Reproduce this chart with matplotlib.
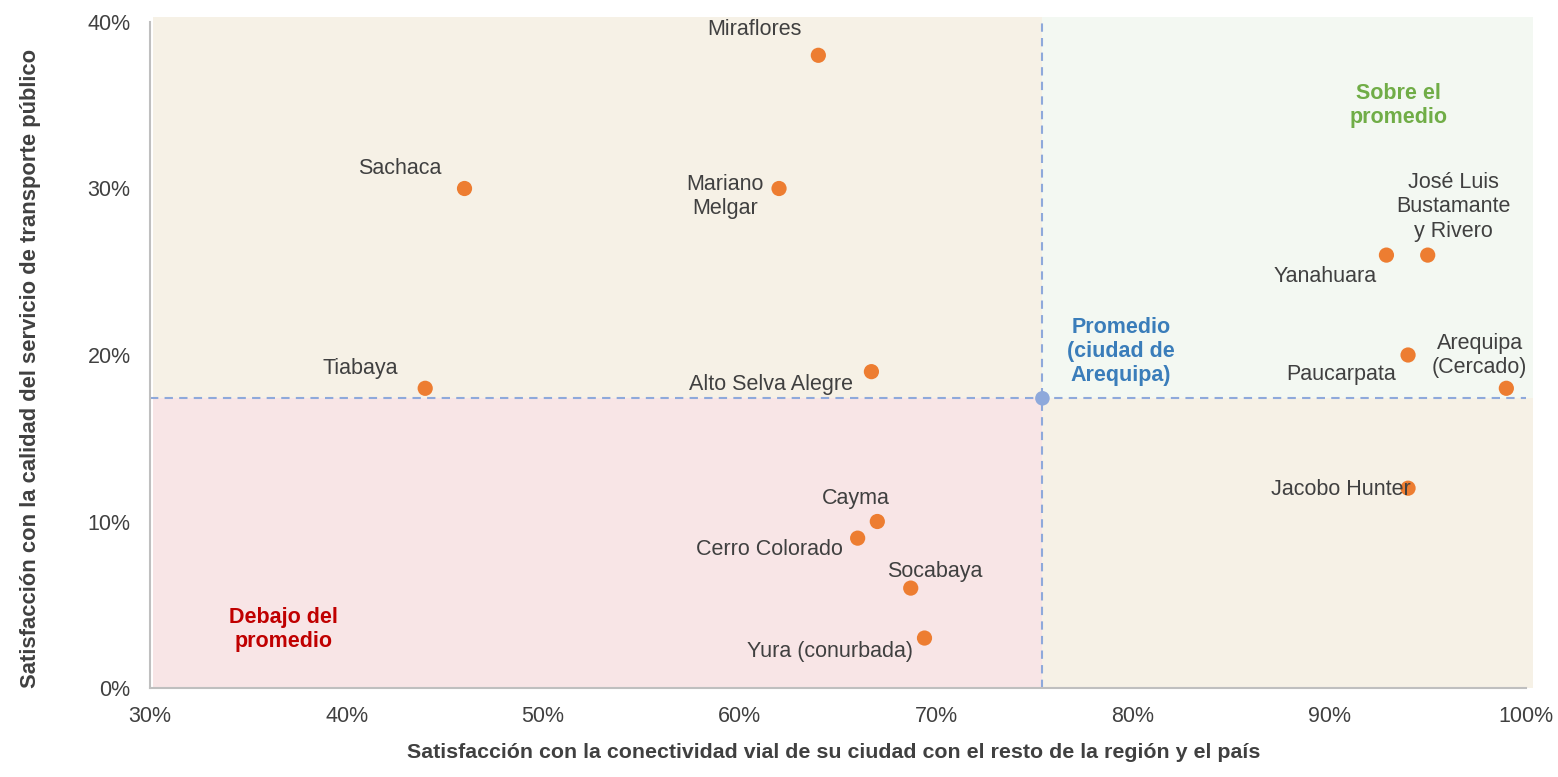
import matplotlib
matplotlib.use("Agg")
import matplotlib.pyplot as plt
from matplotlib.patches import Rectangle

plt.rcParams['font.family'] = ['Liberation Sans', 'DejaVu Sans']

districts = ["Miraflores", "Sachaca", "Mariano\nMelgar", "Tiabaya", "Alto Selva Alegre",
             "Cayma", "Cerro Colorado", "Socabaya", "Yura (conurbada)", "Yanahuara",
             "José Luis\nBustamante\ny Rivero", "Paucarpata", "Arequipa\n(Cercado)", "Jacobo Hunter"]
x_vals = [64.0, 46.0, 62.0, 44.0, 66.7, 67.0, 66.0, 68.7, 69.4, 92.9, 95.0, 94.0, 99.0, 94.0]
y_vals = [38.0, 30.0, 30.0, 18.0, 19.0, 10.0, 9.0, 6.0, 3.0, 26.0, 26.0, 20.0, 18.0, 12.0]
label_x = [60.77, 42.7, 59.25, 40.7, 61.6, 65.9, 61.5, 69.9, 64.6, 89.8, 96.3, 90.6, 97.65, 90.6]
label_y = [39.55, 31.2, 29.5, 19.2, 18.2, 11.4, 8.3, 7.0, 2.2, 24.7, 28.9, 18.8, 19.95, 11.9]
avg_x, avg_y = 75.4, 17.4
x_ticks = [30, 40, 50, 60, 70, 80, 90, 100]
y_ticks = [0, 10, 20, 30, 40]

fig = plt.figure(figsize=(15.58, 7.77), dpi=100)
ax = fig.add_axes([150/1558, (777-688)/777, (1526-150)/1558, (688-22)/777])
ax.set_xlim(30, 100)
ax.set_ylim(0, 40)

x0, x1, y1 = 30.15, 100.35, 40.3
ax.add_patch(Rectangle((x0, avg_y), avg_x - x0, y1 - avg_y, facecolor='#F6F1E6', edgecolor='none', zorder=0, clip_on=False))
ax.add_patch(Rectangle((x0, 0), avg_x - x0, avg_y, facecolor='#F8E5E6', edgecolor='none', zorder=0, clip_on=False))
ax.add_patch(Rectangle((avg_x, avg_y), x1 - avg_x, y1 - avg_y, facecolor='#F3F8F2', edgecolor='none', zorder=0, clip_on=False))
ax.add_patch(Rectangle((avg_x, 0), x1 - avg_x, avg_y, facecolor='#F6F1E6', edgecolor='none', zorder=0, clip_on=False))

ax.axvline(avg_x, color='#8EA9DB', linestyle=(0, (4, 3)), linewidth=1.5, zorder=1)
ax.axhline(avg_y, color='#8EA9DB', linestyle=(0, (4, 3)), linewidth=1.5, zorder=1)
ax.scatter([avg_x], [avg_y], s=110, color='#8EA9DB', zorder=3, clip_on=False, edgecolors='none')

ax.scatter(x_vals, y_vals, s=120, color='#ED7D31', zorder=4, clip_on=False, edgecolors='none')

FS = 15.5
for name, lx, ly in zip(districts, label_x, label_y):
    ax.text(lx, ly, name, ha='center', va='center', fontsize=FS, color='#404040', linespacing=1.2, zorder=5)

ax.text(79.4, 20.2, "Promedio\n(ciudad de\nArequipa)", ha='center', va='center', fontsize=FS,
        fontweight='bold', color='#3A7DBA', linespacing=1.2)
ax.text(93.5, 35.0, "Sobre el\npromedio", ha='center', va='center', fontsize=FS,
        fontweight='bold', color='#70AD47', linespacing=1.2)
ax.text(36.8, 3.5, "Debajo del\npromedio", ha='center', va='center', fontsize=FS,
        fontweight='bold', color='#C00000', linespacing=1.2)

ax.set_xticks(x_ticks)
ax.set_xticklabels([f"{t}%" for t in x_ticks])
ax.set_yticks(y_ticks)
ax.set_yticklabels([f"{t}%" for t in y_ticks])
ax.tick_params(length=0, labelsize=FS, labelcolor='#404040')
ax.tick_params(axis='x', pad=13)
ax.tick_params(axis='y', pad=14)

for s in ['top', 'right']:
    ax.spines[s].set_visible(False)
for s in ['left', 'bottom']:
    ax.spines[s].set_color('#BFBFBF')
    ax.spines[s].set_linewidth(1.5)
ax.set_facecolor('none')

fig.text(834/1558, 1 - 752/777, "Satisfacción con la conectividad vial de su ciudad con el resto de la región y el país",
         ha='center', va='center', fontsize=15.4, fontweight='bold', color='#404040')
fig.text(31/1558, 1 - 368/777, "Satisfacción con la calidad del servicio de transporte público",
         ha='center', va='center', rotation=90, fontsize=15.8, fontweight='bold', color='#404040')

fig.savefig("out.png", dpi=100)
